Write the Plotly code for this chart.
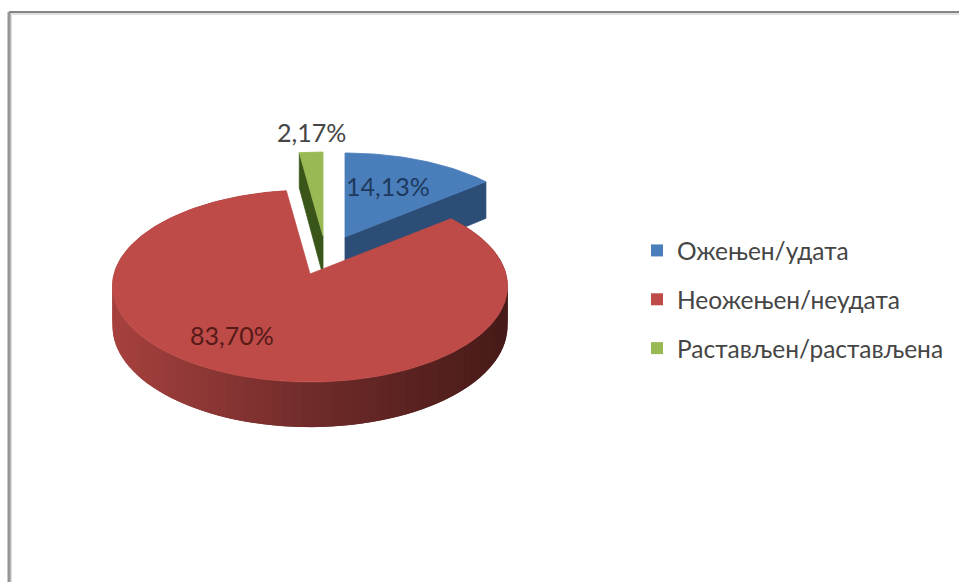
import numpy as np
import plotly.graph_objects as go

# values
categories = ['Ожењен/удата', 'Неожењен/неудата', 'Растављен/растављена']
shares = [14.13, 83.70, 2.17]
labels = ['14,13%', '83,70%', '2,17%']

top_colors = ['#4a7ebb', '#be4b48', '#98b954']
wall_colors = ['#2b4d76', '#6f2c2a', '#3a5519']
label_colors = ['#1d3a5e', '#561a18', '#454545']

# pie geometry in page pixels
RX, RY = 196, 94.5
PERSP = 0.125
DEPTH = 39.5
APEX = [(345, 237), (310, 274), (323, 236)]
LABEL_POS = [(388, 186), (232, 335), (311, 132)]


def project(theta, apex):
    z = np.cos(theta)
    s = 1 / (1 + PERSP * z)
    return apex[0] + RX * np.sin(theta) * s, apex[1] - RY * z * s, DEPTH * s


def poly(fig, xs, ys, color, width=0.8):
    fig.add_trace(go.Scatter(x=xs, y=ys, mode='lines', fill='toself', fillcolor=color,
                             line=dict(color=color, width=width), hoverinfo='skip', showlegend=False))


def mix(c1, c2, t):
    a = [int(c1[i:i + 2], 16) for i in (1, 3, 5)]
    b = [int(c2[i:i + 2], 16) for i in (1, 3, 5)]
    return 'rgb(%d,%d,%d)' % tuple(a[i] + (b[i] - a[i]) * t for i in range(3))


def red_shade(x):
    t = (x - 110) / 397
    if t < 0.5:
        return mix('#a8423f', '#702c2a', t * 2)
    return mix('#702c2a', '#471b19', (t - 0.5) * 2)


fig = go.Figure()

edges = np.concatenate([[0], np.cumsum(shares)]) / 100 * 2 * np.pi

# back to front: green, blue, red
for i in [2, 0, 1]:
    apex = APEX[i]
    thetas = np.linspace(edges[i], edges[i + 1], 240 if i == 1 else 40)
    x, y, d = project(thetas, apex)
    if i == 1:
        # outer wall in overlapping strips so the shade runs along it with no seams
        for k in range(0, len(thetas) - 4, 2):
            xs = np.r_[x[k:k + 5], x[k:k + 5][::-1], x[k]]
            ys = np.r_[y[k:k + 5], (y + d)[k:k + 5][::-1], y[k]]
            poly(fig, xs, ys, red_shade(x[k + 1]), width=0)
    else:
        # the visible cut face of the pulled slices
        j = -1 if i == 0 else 0
        poly(fig, [apex[0], x[j], x[j], apex[0], apex[0]],
             [apex[1], y[j], y[j] + d[j], apex[1] + DEPTH, apex[1]], wall_colors[i])
    poly(fig, np.r_[apex[0], x, apex[0]], np.r_[apex[1], y, apex[1]], top_colors[i])

for i, name in enumerate(categories):
    fig.add_trace(go.Scatter(x=[None], y=[None], mode='markers', name=name, legendgroup=name,
                             marker=dict(symbol='square', size=12, color=top_colors[i])))

for i, txt in enumerate(labels):
    fig.add_annotation(x=LABEL_POS[i][0], y=LABEL_POS[i][1], text=txt, showarrow=False,
                       font=dict(family='Lato', size=25, color=label_colors[i]))

frame = [
    dict(x0=9, x1=959, y0=14, y1=14, color='#dedede', width=2),
    dict(x0=11, x1=11, y0=13, y1=582, color='#dedede', width=2),
    dict(x0=9, x1=959, y0=12, y1=12, color='#858585', width=2),
    dict(x0=9, x1=9, y0=12, y1=582, color='#959595', width=3),
]
for f in frame:
    fig.add_shape(type='line', x0=f['x0'], x1=f['x1'], y0=f['y0'], y1=f['y1'],
                  line=dict(color=f['color'], width=f['width']))

fig.update_layout(
    width=959, height=582, margin=dict(t=0, b=0, l=0, r=0),
    plot_bgcolor='white', paper_bgcolor='white',
    xaxis=dict(range=[0, 959], visible=False, fixedrange=True),
    yaxis=dict(range=[582, 0], visible=False, fixedrange=True),
    legend=dict(x=637 / 959, y=1 - 228 / 582, xanchor='left', yanchor='top',
                font=dict(family='Lato', size=24.5, color='#454545'),
                tracegroupgap=14, itemwidth=30, bgcolor='rgba(0,0,0,0)'),
)

fig.write_html("out.html", config=dict(displayModeBar=False),
               post_script="document.body.style.margin='0';")
